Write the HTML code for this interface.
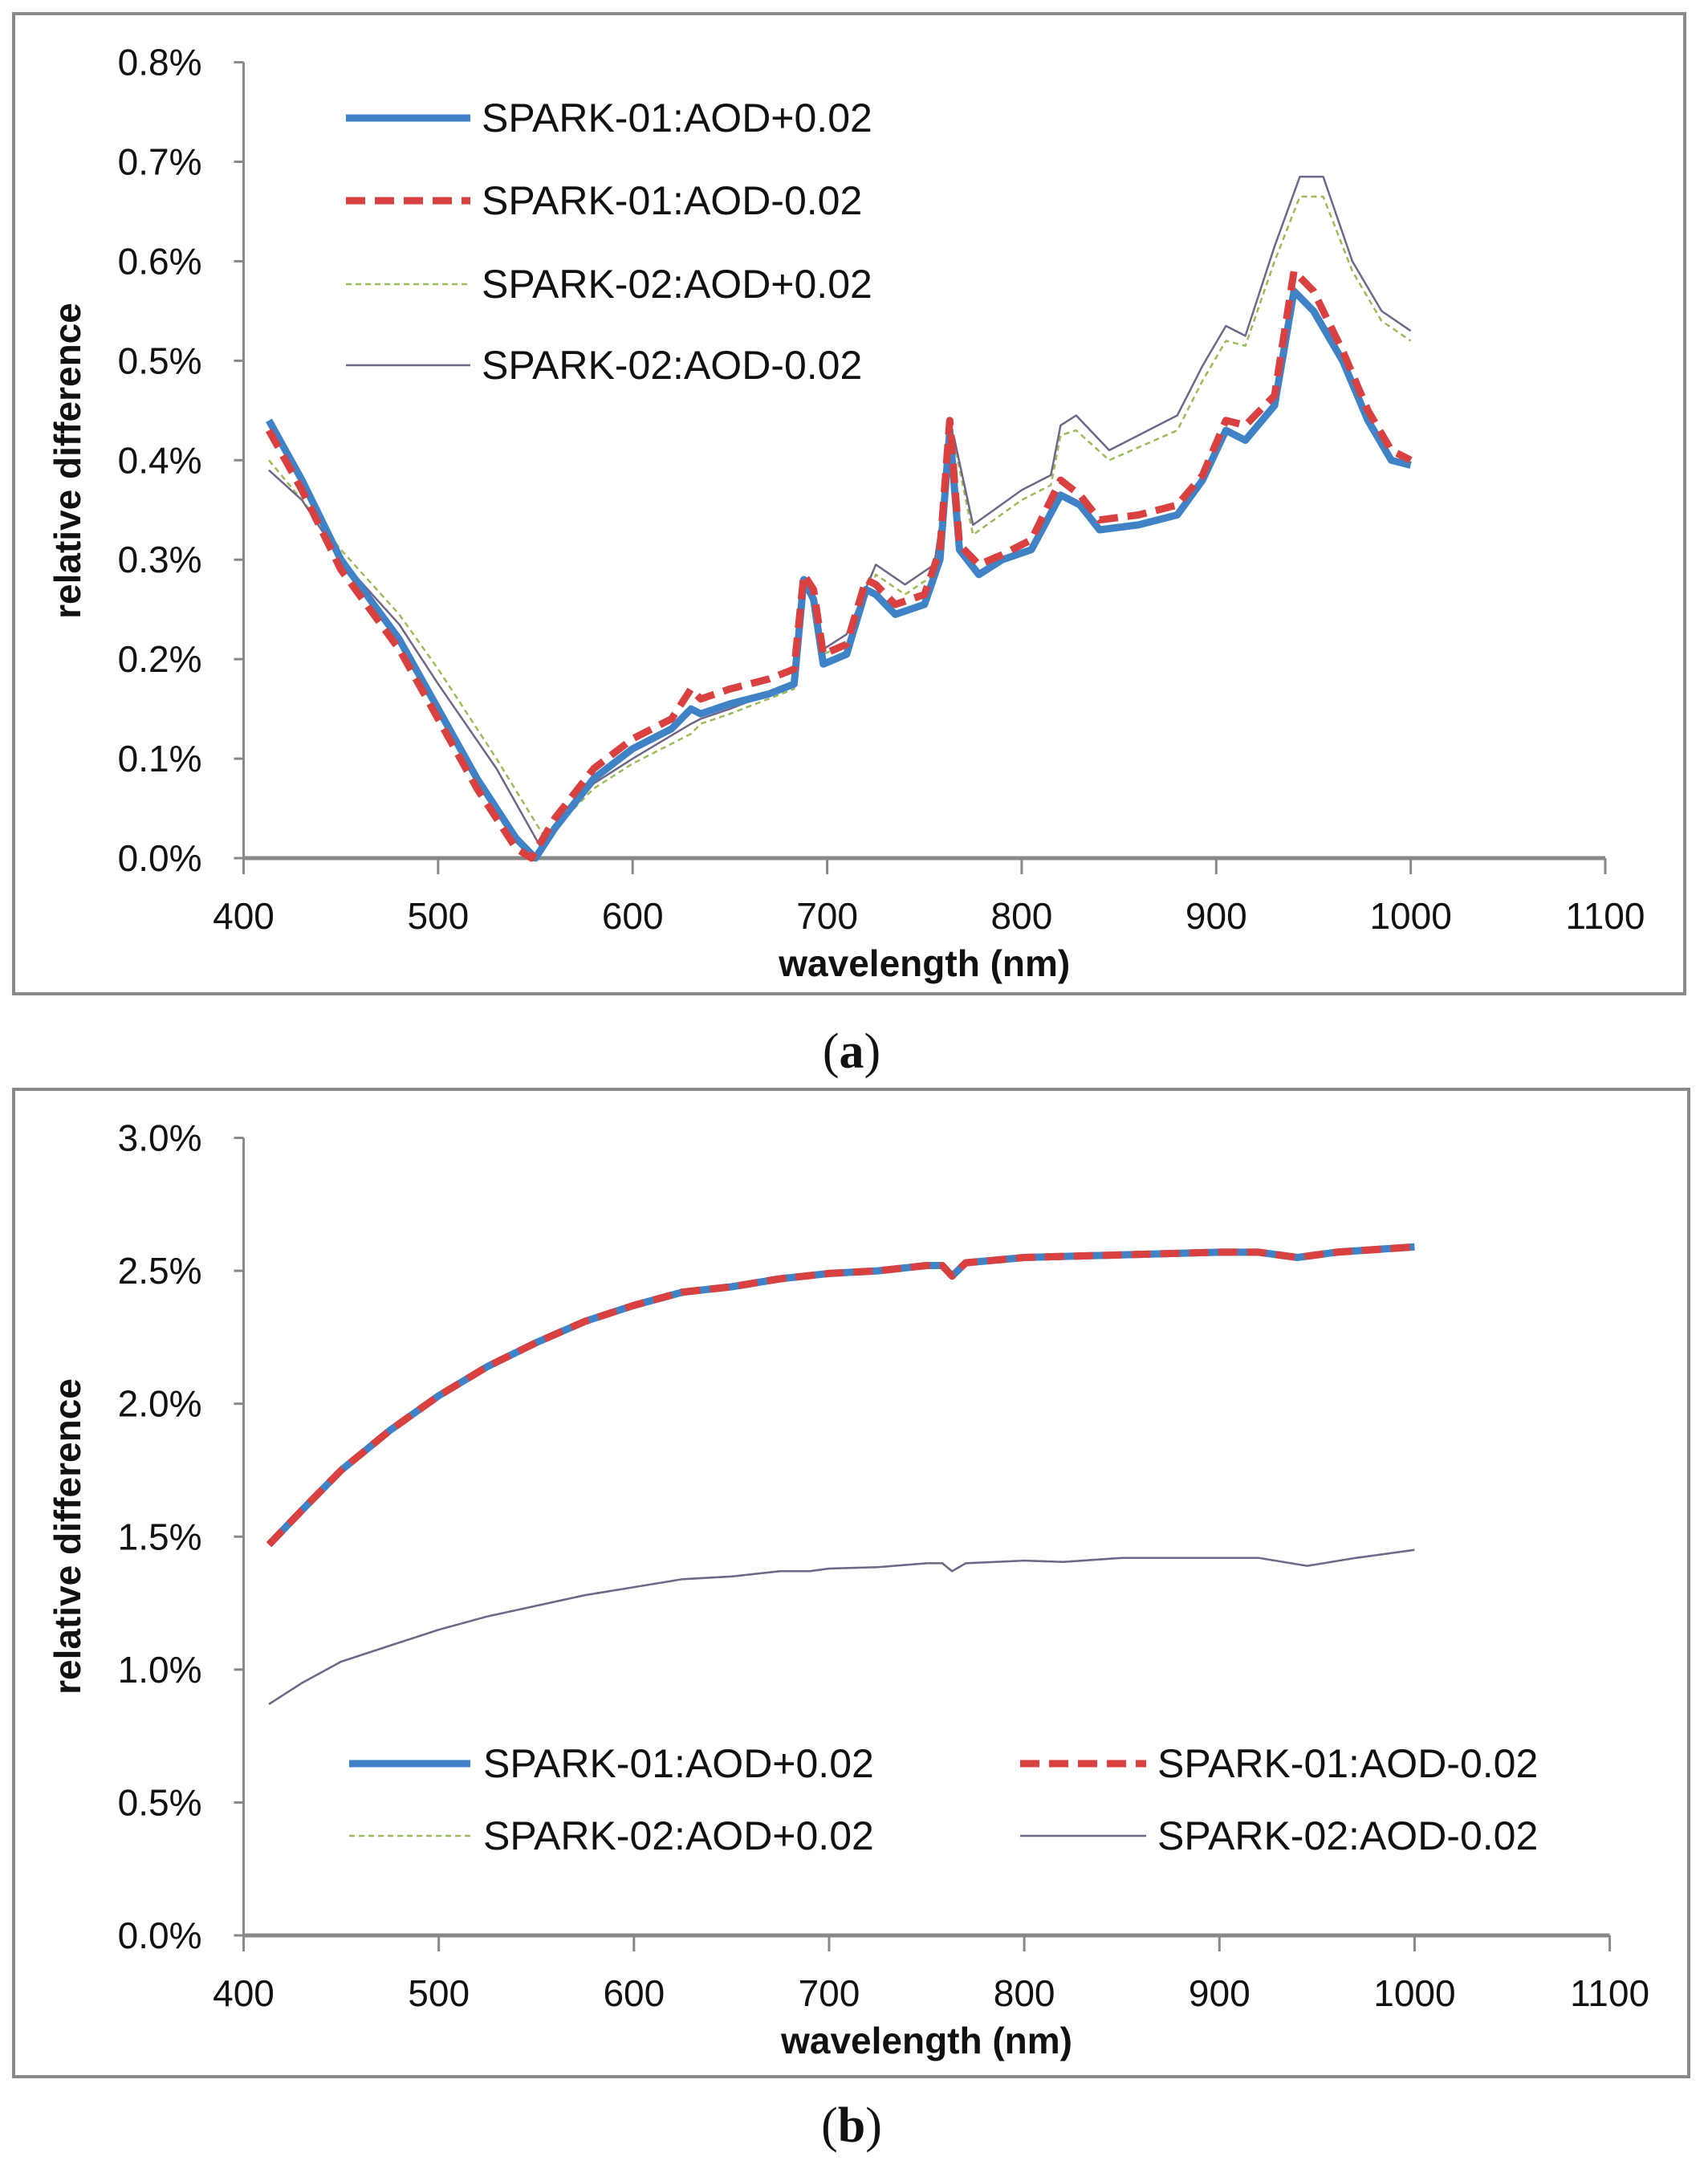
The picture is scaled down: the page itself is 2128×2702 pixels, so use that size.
<!DOCTYPE html>
<html><head><meta charset="utf-8">
<style>
html,body{margin:0;padding:0;background:#fff;}
svg{display:block;}
.t{font-family:"Liberation Sans Narrow","Liberation Sans",sans-serif;font-size:46px;fill:#111;}
.lg{font-family:"Liberation Sans",sans-serif;font-size:50px;fill:#111;}
.b{font-family:"Liberation Sans",sans-serif;font-weight:bold;font-size:46px;fill:#111;}
.c{font-family:"Liberation Serif",serif;font-size:62px;fill:#111;}
</style></head>
<body>
<svg id="s" width="2128" height="2702" viewBox="0 0 2128 2702" xmlns="http://www.w3.org/2000/svg">
<rect x="17" y="17" width="2082" height="1221" fill="#fff" stroke="#8a8a8a" stroke-width="4"/>
<rect x="17" y="1357" width="2087" height="1230" fill="#fff" stroke="#8a8a8a" stroke-width="4"/>
<g id="g"></g>
<text class="c" x="1061" y="1330" text-anchor="middle">(<tspan font-weight="bold">a</tspan>)</text>
<text class="c" x="1061" y="2668" text-anchor="middle">(<tspan font-weight="bold">b</tspan>)</text>
</svg>
<script>
(function(){
var g=document.getElementById('g'),h='';
function ax(x0,x1,y0,yTop,nT,lab,ty){
  var out='';
  out+='<line x1="'+x0+'" y1="'+yTop+'" x2="'+x0+'" y2="'+y0+'" stroke="#888" stroke-width="3"/>';
  out+='<line x1="'+x0+'" y1="'+y0+'" x2="'+x1+'" y2="'+y0+'" stroke="#888" stroke-width="5"/>';
  for(var i=0;i<nT;i++){var y=y0-(y0-yTop)*i/(nT-1);
    out+='<line x1="'+(x0-12)+'" y1="'+y+'" x2="'+x0+'" y2="'+y+'" stroke="#888" stroke-width="3"/>';
    out+='<text class="t" x="'+(x0-52)+'" y="'+(y+16)+'" text-anchor="end">'+lab[i]+'</text>';}
  for(var k=0;k<=7;k++){var x=x0+(x1-x0)*k/7;
    out+='<line x1="'+x+'" y1="'+y0+'" x2="'+x+'" y2="'+(y0+20)+'" stroke="#888" stroke-width="3"/>';
    out+='<text class="t" x="'+x+'" y="'+(y0+88)+'" text-anchor="middle">'+(400+100*k)+'</text>';}
  out+='<text class="b" x="'+((x0+x1)/2)+'" y="'+(y0+147)+'" text-anchor="middle">wavelength (nm)</text>';
  out+='<text class="b" transform="translate(100,'+ty+') rotate(-90)" text-anchor="middle">relative difference</text>';
  return out;
}
function path(d,x0,x1,y0,pp,st){
  var s='';for(var i=0;i<d.length;i+=2){s+=(i?'L':'M')+(x0+(d[i]-400)*(x1-x0)/700).toFixed(1)+' '+(y0-d[i+1]*pp).toFixed(1);}
  return '<path d="'+s+'" fill="none" '+st+' stroke-linejoin="round"/>';
}
var SB='stroke="#3f83c6" stroke-width="9"', SR='stroke="#d8413f" stroke-width="9" stroke-dasharray="24,12"',
 SG='stroke="#9bbb59" stroke-width="2.5" stroke-dasharray="7,5"', SP='stroke="#6f6688" stroke-width="2.5"';
var ax0=303.5,ax1=2000,ay0=1069,pa=(1069-77.6)/0.8;
h+=ax(ax0,ax1,ay0,77.6,9,['0.0%','0.1%','0.2%','0.3%','0.4%','0.5%','0.6%','0.7%','0.8%'],574);
var blue=[413,.44,430,.38,450,.30,480,.22,500,.15,520,.08,540,.02,550,.0,560,.03,580,.08,600,.11,620,.13,630,.15,635,.145,650,.155,670,.165,683,.175,688,.28,693,.26,698,.195,710,.205,720,.27,725,.265,735,.245,750,.255,758,.30,763,.43,768,.31,778,.285,790,.30,805,.31,820,.365,830,.355,840,.33,860,.335,880,.345,893,.38,905,.43,915,.42,930,.455,940,.57,950,.55,965,.50,978,.44,990,.40,1000,.395];
var red=[413,.43,430,.37,450,.29,480,.21,500,.14,520,.07,540,.01,548,.0,560,.04,580,.09,600,.12,620,.14,630,.17,635,.16,650,.17,670,.18,683,.19,688,.285,693,.27,698,.205,710,.215,720,.28,725,.275,735,.255,750,.265,758,.31,763,.44,768,.315,778,.295,790,.305,805,.32,820,.38,830,.365,840,.34,860,.345,880,.355,893,.385,905,.44,915,.435,930,.465,940,.59,950,.57,965,.51,978,.45,990,.41,1000,.40];
var green=[413,.40,430,.36,450,.31,480,.245,500,.19,530,.10,555,.02,580,.07,600,.095,630,.125,635,.135,650,.145,683,.17,688,.275,693,.26,698,.205,710,.215,725,.285,740,.265,755,.285,765,.42,775,.325,800,.36,815,.375,820,.425,828,.43,845,.40,880,.43,893,.48,905,.52,915,.515,930,.60,943,.665,955,.665,970,.59,985,.54,1000,.52];
var purple=[413,.39,430,.36,450,.30,480,.235,500,.175,530,.09,553,.01,580,.075,600,.10,630,.135,635,.14,650,.15,683,.175,688,.28,693,.265,698,.21,710,.225,725,.295,740,.275,755,.295,765,.425,775,.335,800,.37,815,.385,820,.435,828,.445,845,.41,880,.445,893,.495,905,.535,915,.525,930,.615,943,.685,955,.685,970,.60,985,.55,1000,.53];
h+=path(green,ax0,ax1,ay0,pa,SG)+path(purple,ax0,ax1,ay0,pa,SP)+path(blue,ax0,ax1,ay0,pa,SB)+path(red,ax0,ax1,ay0,pa,SR);
var L=[['SPARK-01:AOD+0.02',SB,147],['SPARK-01:AOD-0.02',SR,250],['SPARK-02:AOD+0.02',SG,354],['SPARK-02:AOD-0.02',SP,455]];
L.forEach(function(l){h+='<line x1="431" y1="'+l[2]+'" x2="586" y2="'+l[2]+'" '+l[1]+'/>';h+='<text class="lg" x="600" y="'+(l[2]+17)+'">'+l[0]+'</text>';});
var bx0=303.5,bx1=2005.6,by0=2411,pb=(2411-1417.5)/3.0;
h+=ax(bx0,bx1,by0,1417.5,7,['0.0%','0.5%','1.0%','1.5%','2.0%','2.5%','3.0%'],1914);
var topc=[413,1.47,430,1.6,450,1.75,475,1.9,500,2.03,525,2.14,550,2.23,575,2.31,600,2.37,625,2.42,650,2.44,675,2.47,700,2.49,725,2.5,750,2.52,758,2.52,763,2.48,770,2.53,800,2.55,850,2.56,900,2.57,920,2.57,940,2.55,960,2.57,1000,2.59];
var low=[413,.87,430,.95,450,1.03,475,1.09,500,1.15,525,1.2,550,1.24,575,1.28,600,1.31,625,1.34,650,1.35,675,1.37,690,1.37,700,1.38,725,1.385,750,1.40,758,1.40,763,1.37,770,1.40,800,1.41,820,1.405,850,1.42,900,1.42,920,1.42,945,1.39,970,1.42,1000,1.45];
h+=path(low,bx0,bx1,by0,pb,SG)+path(low,bx0,bx1,by0,pb,SP)+path(topc,bx0,bx1,by0,pb,SB)+path(topc,bx0,bx1,by0,pb,SR);
[['SPARK-01:AOD+0.02',SB,435,586,602,2197],['SPARK-01:AOD-0.02',SR,1271,1428,1442,2197],['SPARK-02:AOD+0.02',SG,435,586,602,2287],['SPARK-02:AOD-0.02',SP,1271,1428,1442,2287]].forEach(function(l){
 h+='<line x1="'+l[2]+'" y1="'+l[5]+'" x2="'+l[3]+'" y2="'+l[5]+'" '+l[1]+'/>';h+='<text class="lg" x="'+l[4]+'" y="'+(l[5]+17)+'">'+l[0]+'</text>';});
g.innerHTML=h;
})();
</script>
</body></html>
